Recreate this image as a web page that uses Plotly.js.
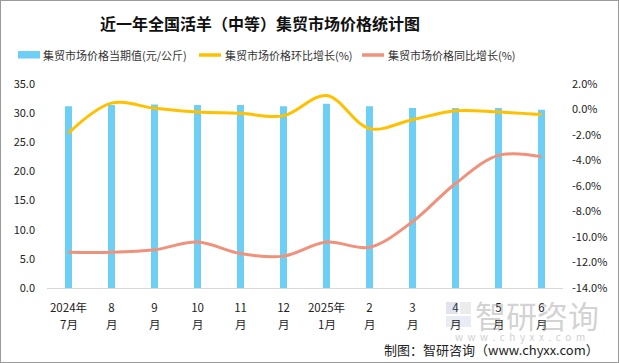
<!DOCTYPE html>
<html>
<head>
<meta charset="utf-8">
<script src="https://cdn.plot.ly/plotly-3.0.1.min.js"></script>
<style>
html,body{margin:0;padding:0;background:#fff;}
#wrap{position:relative;width:619px;height:363px;}
#chart{width:619px;height:363px;}
#frame{position:absolute;left:0;top:0;width:619px;height:363px;box-sizing:border-box;border:1px solid #9a9a9a;pointer-events:none;}
</style>
</head>
<body>
<div id="wrap"><div id="chart"></div><div id="frame"></div></div>
<script>
const categoriesTop = ["2024年","8","9","10","11","12","2025年","2","3","4","5","6"];
const categoriesBottom = ["7月","月","月","月","月","月","1月","月","月","月","月","月"];
const priceValues = [31.2, 31.4, 31.5, 31.4, 31.4, 31.2, 31.6, 31.2, 30.9, 30.9, 30.9, 30.6];
const momGrowth = [-1.85, 0.5, 0.1, -0.2, -0.3, -0.5, 1.1, -1.5, -0.8, -0.1, -0.2, -0.4];
const yoyGrowth = [-11.2, -11.2, -11.0, -10.4, -11.3, -11.5, -10.4, -10.8, -8.8, -5.8, -3.6, -3.7];
const leftTicks = [0,5,10,15,20,25,30,35];
const rightTicks = [2,0,-2,-4,-6,-8,-10,-12,-14];
const seriesNames = ['集贸市场价格当期值(元/公斤)','集贸市场价格环比增长(%)','集贸市场价格同比增长(%)'];
const colors = ['#6dcff6','#ffc000','#f0917b'];

const font = "'Noto Sans CJK SC', 'Noto Sans', sans-serif";
const idx = categoriesTop.map((c,i)=>i);

const traces = [
  {type:'bar', x:idx, y:priceValues, name:seriesNames[0],
   marker:{color:colors[0]}, width:0.163, yaxis:'y'},
  {type:'scatter', mode:'lines', x:idx, y:momGrowth, name:seriesNames[1],
   line:{color:colors[1], width:3, shape:'spline', smoothing:1}, yaxis:'y2'},
  {type:'scatter', mode:'lines', x:idx, y:yoyGrowth, name:seriesNames[2],
   line:{color:colors[2], width:3, shape:'spline', smoothing:1}, yaxis:'y2'}
];

// plot area: x 47..563, y 84..288
const PX = px => (px-47)/516;
const PY = py => (288-py)/204;

const annotations = [];
const shapes = [];

// second line of category labels
categoriesBottom.forEach((t,i)=>{
  annotations.push({xref:'x', yref:'paper', x:i, y:PY(324), xanchor:'center', yanchor:'middle',
    showarrow:false, text:t, font:{family:font, size:11.5, color:'#222'}});
});

// legend (manual, single row as in the reference)
const legY = PY(55);
shapes.push({type:'rect', xref:'paper', yref:'paper', x0:PX(18), x1:PX(40), y0:PY(58.5), y1:PY(51),
  fillcolor:colors[0], line:{width:0}});
shapes.push({type:'line', xref:'paper', yref:'paper', x0:PX(199), x1:PX(221), y0:legY, y1:legY,
  line:{color:colors[1], width:3.5}});
shapes.push({type:'line', xref:'paper', yref:'paper', x0:PX(362), x1:PX(384), y0:legY, y1:legY,
  line:{color:colors[2], width:3.5}});
[[42,0],[224,1],[387,2]].forEach(([px,i])=>{
  annotations.push({xref:'paper', yref:'paper', x:PX(px), y:legY, xanchor:'left', yanchor:'middle',
    showarrow:false, text:seriesNames[i], font:{family:font, size:11, color:'#333'}, xshift:-1});
});

// watermark
shapes.push({type:'rect', xref:'paper', yref:'paper', x0:PX(446), x1:PX(458), y0:PY(314), y1:PY(302),
  fillcolor:'rgba(110,130,180,0.22)', line:{width:0}, layer:'above'});
shapes.push({type:'rect', xref:'paper', yref:'paper', x0:PX(446), x1:PX(471), y0:PY(327), y1:PY(316),
  fillcolor:'rgba(110,130,180,0.15)', line:{width:0}, layer:'above'});
shapes.push({type:'rect', xref:'paper', yref:'paper', x0:PX(460), x1:PX(471), y0:PY(314), y1:PY(302),
  fillcolor:'rgba(150,150,150,0.18)', line:{width:0}, layer:'above'});
annotations.push({xref:'paper', yref:'paper', x:PX(473), y:PY(314), xanchor:'left', yanchor:'middle',
  showarrow:false, text:'智研咨询', font:{family:font, size:31, color:'rgba(140,140,140,0.4)'}});
annotations.push({xref:'paper', yref:'paper', x:PX(520), y:PY(336), xanchor:'center', yanchor:'middle',
  showarrow:false, text:'w  w  w  .  c  h  y  x  x  .  c  o  m', font:{family:font, size:10, color:'#cfcfcf'}});

// source note
annotations.push({xref:'paper', yref:'paper', x:PX(601), y:PY(349), xanchor:'right', yanchor:'middle',
  showarrow:false, text:'制图：智研咨询（www.chyxx.com）', font:{family:font, size:13, color:'#222'}});

const layout = {
  width:619, height:363,
  margin:{l:47, r:56, t:84, b:75},
  paper_bgcolor:'#fff', plot_bgcolor:'#fff',
  font:{family:font, size:11, color:'#222'},
  showlegend:false,
  title:{text:'<b>近一年全国活羊（中等）集贸市场价格统计图</b>', font:{family:font, size:16, color:'#111'},
         xref:'container', x:260/619, xanchor:'center', y:1-24/363, yanchor:'middle'},
  xaxis:{tickmode:'array', tickvals:idx, ticktext:categoriesTop, range:[-0.5,11.5],
         showgrid:false, zeroline:false, showline:true, linecolor:'#d9d9d9', linewidth:1,
         ticks:'', ticklabelstandoff:9, tickfont:{family:font, size:11.5, color:'#222'}},
  yaxis:{range:[0,35], tickvals:leftTicks, ticktext:leftTicks.map(v=>v.toFixed(1)),
         showgrid:false, zeroline:false, showline:false, ticks:'', ticklabelstandoff:11,
         tickfont:{family:font, size:11, color:'#222'}},
  yaxis2:{overlaying:'y', side:'right', range:[-14,2], tickvals:rightTicks,
          ticktext:rightTicks.map(v=>v.toFixed(1)+'%'), ticklabelstandoff:8,
          showgrid:false, zeroline:false, showline:false, ticks:'',
          tickfont:{family:font, size:11, color:'#222'}},
  annotations: annotations,
  shapes: shapes
};

Plotly.newPlot('chart', traces, layout, {displayModeBar:false, staticPlot:true});
</script>
</body>
</html>
